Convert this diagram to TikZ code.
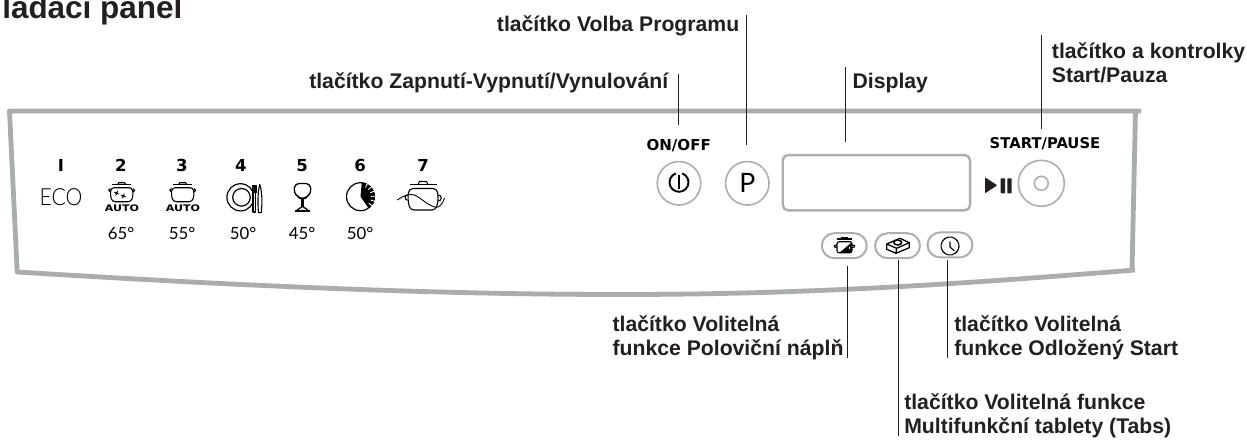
\documentclass[tikz,border=0pt]{standalone}
\usepackage{fontspec}
\usepackage{graphicx}
\setmainfont{Liberation Sans}
\newfontfamily\dejafont{DejaVu Sans}
\newfontfamily\thinfont{Lato Light}
\newfontfamily\regfont{Lato}
\definecolor{ink}{HTML}{231F20}
\definecolor{panelgrey}{HTML}{A9ADAC}
\definecolor{btngrey}{HTML}{ACAFAE}
\tikzset{
  px/.style={line width=#1*0.75pt},
  label/.style={font=\fontsize{15.9pt}{17.5pt}\selectfont\bfseries, text=ink, inner sep=0pt, anchor=base west, align=left},
  numtext/.style={font=\dejafont\fontsize{12.4pt}{14pt}\selectfont\bfseries, text=black, inner sep=0pt, anchor=base},
  captext/.style={font=\dejafont\fontsize{11.3pt}{13pt}\selectfont\bfseries, text=black, inner sep=0pt, anchor=base},
  temptext/.style={font=\regfont\fontsize{12.6pt}{16pt}\selectfont, text=black, inner sep=0pt, anchor=base},
  autotext/.style={font=\dejafont\fontsize{6.8pt}{8pt}\selectfont\bfseries, text=black, inner sep=0pt},
  panelline/.style={draw=panelgrey, px=4.8, line join=round},
  leader/.style={draw=ink, px=1},
  roundbtn/.style={circle, draw=btngrey, px=1.6, minimum size=43.5*0.75pt, inner sep=0pt},
  pillbtn/.style={rectangle, draw=btngrey, px=2, rounded corners=9.5pt, minimum width=45*0.75pt, minimum height=25*0.75pt, inner sep=0pt},
  icon/.style={draw=black, px=1.1, line join=round},
  pot/.pic={
    \draw[icon, px=1.6] (-9.7,-10.5) -- (9.7,-10.5);
    \draw[icon] (-4,-10.5) -- (-3,-12.3) -- (3,-12.3) -- (4,-10.5);
    \draw[icon, rounded corners=2.2pt] (-10.5,-7.3) -- (10.5,-7.3) -- (11.5,0) -- (9.5,6.7) -- (-9.5,6.7) -- (-11.5,0) -- cycle;
    \draw[icon] (-11.3,-3) arc[start angle=90,end angle=270,radius=1.7];
    \draw[icon] (11.3,-3) arc[start angle=90,end angle=-90,radius=1.7];
  }
}
\begin{document}
\begin{tikzpicture}[x=0.75pt,y=-0.75pt]
\path[use as bounding box, fill=white] (0,0) rectangle (1247,440);

% panel outline
\draw[panelline] (1141,111) -- (9.5,111) -- (17.2,272)
  .. controls (180,282) and (400,294.5) .. (620,294.5)
  .. controls (810,294.5) and (960,284) .. (1135,270);
\draw[panelline] (1135.5,111) -- (1132,271);

% title and labels
\node[label, font=\fontsize{23.6pt}{26pt}\selectfont\bfseries] (title) at (2,18.3) {ladací panel};
\node[label] (lblVolba) at (496.7,31.7) {tlačítko Volba Programu};
\node[label] (lblZap) at (309,88.3) {tlačítko Zapnutí-Vypnutí/Vynulování};
\node[label] (lblDisp) at (852.3,88.3) {Display};
\node[label] (lblStart) at (1051.7,82.3) {tlačítko a kontrolky\\Start/Pauza};
\node[label] (lblHalf) at (612.3,355) {tlačítko Volitelná\\funkce Poloviční náplň};
\node[label] (lblDelay) at (954,355) {tlačítko Volitelná\\funkce Odložený Start};
\node[label] (lblMulti) at (904,433.3) {tlačítko Volitelná funkce\\Multifunkční tablety (Tabs)};

% program numbers
\node[numtext] (n1) at (61,171.7) {I};
\node[numtext] (n2) at (121,171.7) {2};
\node[numtext] (n3) at (182,171.7) {3};
\node[numtext] (n4) at (241,171.7) {4};
\node[numtext] (n5) at (302,171.7) {5};
\node[numtext] (n6) at (360,171.7) {6};
\node[numtext] (n7) at (423,171.7) {7};

\node[temptext, font=\thinfont\fontsize{17.7pt}{22pt}\selectfont] (eco) at (61,205) {\scalebox{.9}[1]{ECO}};
\node[temptext] (t2) at (121,239) {65°};
\node[temptext] (t3) at (182,239) {55°};
\node[temptext] (t4) at (243,239) {50°};
\node[temptext] (t5) at (302,239) {45°};
\node[temptext] (t6) at (360,239) {50°};

% programme 2 and 3 pots
\pic at (121.7,195) {pot};
\pic at (182.7,195) {pot};
\node[autotext] (auto2) at (122,208.6) {\scalebox{1.22}[1]{AUTO}};
\node[autotext] (auto3) at (183,208.6) {\scalebox{1.22}[1]{AUTO}};
\foreach \p in {(116.7,193.2),(123.3,196)}{
  \fill[black] \p circle[radius=1.5];
  \draw[black, px=.7] \p ++(-2.6,-1) -- ++(5.2,2) \p ++(-1,2.4) -- ++(2,-4.8);
}

% plate, fork and knife
\draw[icon, px=1.2] (240.5,197.3) circle[radius=13.6];
\draw[icon, px=1.2] (241.5,197.3) circle[radius=8.8];
\fill[black] (251.6,185) rectangle (256.6,193);
\draw[icon, fill=white] (253,193) -- (253,212) -- (255.2,212) -- (255.2,193);
\draw[icon, fill=white] (259.8,184.5) .. controls (257.3,193) and (257.9,205) .. (258.4,212.6) -- (261.2,212.6) .. controls (262.2,205) and (262.5,193) .. (259.8,184.5) -- cycle;

% wine glass
\draw[icon, px=1.3, rounded corners=3pt] (295,183.5) -- (310,183.5) -- (311.3,193) -- (306,197.5) -- (303.4,198.5) -- (301.6,198.5) -- (299,197.5) -- (293.7,193) -- cycle;
\draw[icon, px=1.3] (301.7,198.5) -- (301.7,207) -- (297,210) (303.3,198.5) -- (303.3,207) -- (308,210);
\draw[icon, px=1.6] (295.3,211) -- (310,211);

% half-load clock
\draw[icon, px=1.2] (360.5,196.7) circle[radius=14];
\fill[black] (360.5,196.7) -- ++(-85:14.2) arc[start angle=-85,end angle=55,radius=14.2] -- cycle;
\foreach \a in {-62,-42,-22,-2,18,38}{
  \draw[white, px=.9] (360.5,196.7) ++(\a:10.5) -- ++(\a:4.5);
}

% programme 7 pot with wave
\draw[icon, px=1.6] (410,184.5) -- (436.7,184.5);
\draw[icon] (418,184.5) -- (419.5,181.5) -- (426.5,181.5) -- (428,184.5);
\draw[icon, rounded corners=3pt] (409,188.5) -- (437,188.5) -- (438.5,199) -- (436,210) -- (410,210) -- (407.7,199) -- cycle;
\draw[icon] (407.7,195) arc[start angle=-90,end angle=-270,radius=2.6];
\draw[icon] (438.3,195) arc[start angle=-90,end angle=90,radius=3];
\draw[icon, px=.9] (397.3,200) .. controls (403,196) and (407,194.5) .. (411,194.5) .. controls (419,194.5) and (424,204) .. (436,207.5) .. controls (440,207.5) and (443,203) .. (444.5,198);

% buttons
\node[roundbtn] (onoff) at (679,183.3) {};
\node[roundbtn, text=black, font=\regfont\fontsize{20pt}{24pt}\selectfont] (prog) at (747.3,183.3) {P};
\node[roundbtn, minimum size=46*0.75pt] (startbtn) at (1041.3,183.3) {};
\node[roundbtn, minimum size=14*0.75pt] (startdot) at (1041.3,183.3) {};
\draw[black, px=1.9] (679,182.3) ++(-70:9.5) arc[start angle=-70,end angle=250,radius=9.5];
\draw[black, px=1.9] (679,175) -- (679,189);

\node[captext] (onofftxt) at (678.7,150) {ON/OFF};
\node[captext, font=\dejafont\fontsize{11.1pt}{13pt}\selectfont\bfseries] (starttxt) at (1045,148.3) {START/PAUSE};

\node[draw=btngrey, px=2.4, rounded corners=4pt, minimum width=187.3*0.75pt, minimum height=55.3*0.75pt, inner sep=0pt] (display) at (876.4,182.7) {};

% play / pause glyph
\fill[ink, rounded corners=.6pt] (985,177.3) -- (997.3,185.3) -- (985,193.3) -- cycle;
\fill[ink, rounded corners=.5pt] (1000.7,178.3) rectangle (1005,193.3);
\fill[ink, rounded corners=.5pt] (1007.3,178.3) rectangle (1011.7,193.3);

% option buttons
\node[pillbtn] (halfbtn) at (844.3,245.7) {};
\node[pillbtn] (tabbtn) at (897.5,245.7) {};
\node[pillbtn] (delaybtn) at (950,244.9) {};

% half-load icon
\draw[icon, px=1.4] (836.7,239) -- (851.7,239);
\fill[black] (841,238.5) rectangle (847.5,237);
\draw[icon, rounded corners=1.5pt] (837,241.7) -- (852,241.7) -- (852,252.7) -- (837,252.7) -- cycle;
\fill[black] (851.5,242.5) -- (851.5,252.3) -- (840,252.3) -- cycle;
\fill[white] (848.5,247.3) rectangle (850,248.5);
\draw[icon] (837,245) -- (834.5,245.5) -- (834.5,247) -- (837,247.5);
\draw[icon] (852,245) -- (854.5,245.5) -- (854.5,247) -- (852,247.5);

% tablet icon
\draw[icon, px=1.3] (886.7,244) -- (900,238.3) -- (909.3,242.7) -- (909.3,247.7) -- (896,253.3) -- (886.7,249.3) -- cycle;
\draw[icon, px=1.3] (886.7,244) -- (896.5,248.3) -- (909.3,242.7) (896.5,248.3) -- (896,253.3);
\draw[icon, px=1.5] (897.7,242.5) ellipse[x radius=4,y radius=2.5];

% delay clock icon
\draw[icon] (950,246) ++(55:9) arc[start angle=55,end angle=-340,radius=9];
\draw[icon] (950,241.5) -- (950,247) -- (954.5,251);
\fill[black] (950,246) ++(40:9) circle[radius=.7];
\fill[black] (950,246) ++(5:9) circle[radius=.7];

% leaders
\coordinate (zapA) at (678,74);      \coordinate (zapB) at (678,125.3);
\coordinate (volA) at (746,15);      \coordinate (volB) at (746,145);
\coordinate (dispA) at (845.3,67.3); \coordinate (dispB) at (845.3,141.7);
\coordinate (startA) at (1041,35);   \coordinate (startB) at (1041,129);
\coordinate (halfA) at (847.3,266);  \coordinate (halfB) at (847.3,357.7);
\coordinate (tabA) at (898.3,259.5); \coordinate (tabB) at (898.3,436);
\coordinate (delA) at (947.3,260);   \coordinate (delB) at (947.3,357.7);
\draw[leader] (zapA) -- (zapB);
\draw[leader] (volA) -- (volB);
\draw[leader] (dispA) -- (dispB);
\draw[leader] (startA) -- (startB);
\draw[leader] (halfA) -- (halfB);
\draw[leader] (tabA) -- (tabB);
\draw[leader] (delA) -- (delB);
\end{tikzpicture}
\end{document}
